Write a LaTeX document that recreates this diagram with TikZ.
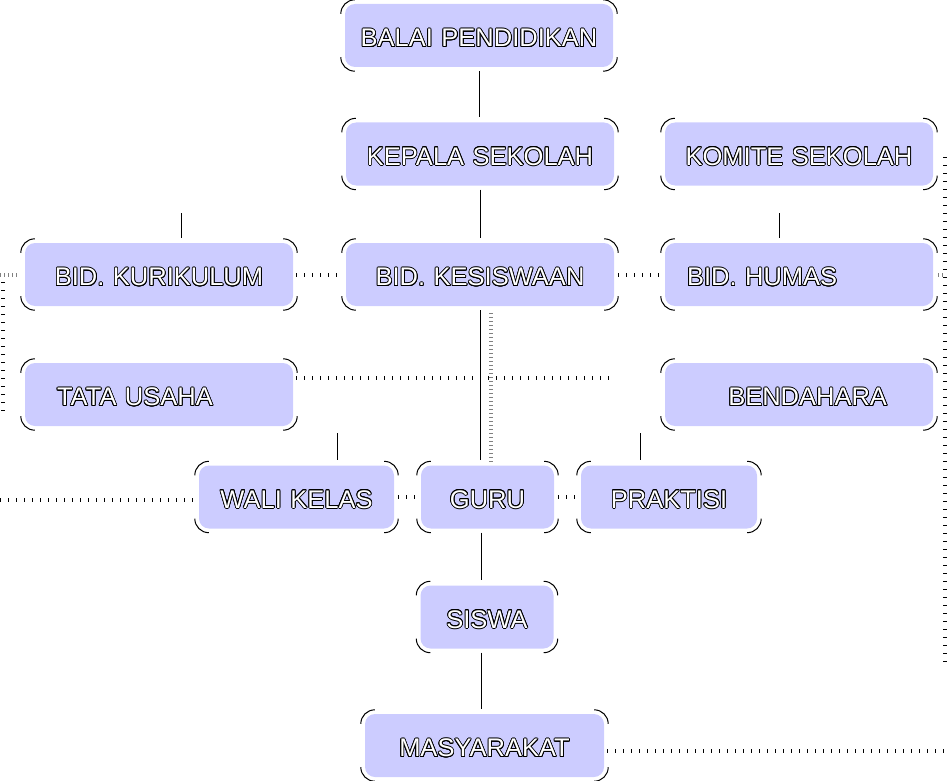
\documentclass[tikz,border=0pt]{standalone}
\usepackage{fontspec}
\setmainfont{Liberation Sans}
\usepackage{contour}
\contourlength{0.8pt}
\contournumber{16}
\usetikzlibrary{positioning}
\definecolor{boxfill}{RGB}{204,204,255}
\newcommand{\boxtext}[1]{\contour{black}{#1}}

\begin{document}
\begin{tikzpicture}[x=1pt,y=-1pt,
	orgbox/.style={fill=boxfill,rounded corners=10pt,minimum height=63pt,inner xsep=0pt,inner ysep=0pt,
		text=white,font=\fontsize{25.5}{30}\selectfont,align=center,text width=#1,text height=22.5pt,text depth=0pt},
	orgbox/.default=268pt,
	link/.style={line width=1pt,shorten <=4pt,shorten >=5pt},
	dots/.style={line width=4pt,dash pattern=on 1pt off 7pt},
	ticks/.style={gray,line width=4pt,dash pattern=on 1pt off 3pt},
	corner/.style={line width=1pt}]
	\useasboundingbox (0,0) rectangle (950,781);
	\node[orgbox] (BP) at (479,35.5) {\boxtext{BALAI PENDIDIKAN}};
	\node[orgbox] (KS) at (480,154) {\boxtext{KEPALA SEKOLAH}};
	\node[orgbox] (KM) at (799,154) {\boxtext{KOMITE SEKOLAH}};
	\node[orgbox] (KUR) at (159,274.5) {\boxtext{BID. KURIKULUM}};
	\node[orgbox] (KES) at (480,274.5) {\boxtext{BID. KESISWAAN}};
	\node[orgbox=224pt,inner xsep=22pt,align=left] (HUM) at (799,274.5) {\boxtext{BID. HUMAS}};
	\node[orgbox=204pt,inner xsep=32pt,align=left] (TU) at (159,394.5) {\boxtext{TATA USAHA}};
	\node[orgbox=176pt,inner xsep=46pt,align=right] (BEN) at (799,394.5) {\boxtext{BENDAHARA}};
	\node[orgbox=195pt] (WK) at (296.5,497) {\boxtext{WALI KELAS}};
	\node[orgbox=133pt] (GU) at (487.5,497) {\boxtext{GURU}};
	\node[orgbox=176pt] (PR) at (669,497) {\boxtext{PRAKTISI}};
	\node[orgbox=133pt] (SI) at (487,617) {\boxtext{SISWA}};
	\node[orgbox=239pt] (MA) at (484.5,745.5) {\boxtext{MASYARAKAT}};
	\foreach \n in {BP,KS,KM,KUR,KES,HUM,TU,BEN,WK,GU,PR,SI,MA}{
		\draw[corner] ([xshift=-4pt,yshift=-10pt]\n.north west) arc[start angle=180,delta angle=-90,radius=14pt];
		\draw[corner] ([xshift=-10pt,yshift=4pt]\n.north east) arc[start angle=90,delta angle=-90,radius=14pt];
		\draw[corner] ([xshift=4pt,yshift=10pt]\n.south east) arc[start angle=0,delta angle=-90,radius=14pt];
		\draw[corner] ([xshift=10pt,yshift=-4pt]\n.south west) arc[start angle=270,delta angle=-90,radius=14pt];
	}
	\coordinate (KURup) at (181,213);
	\coordinate (HUMup) at (779,213);
	\coordinate (WKup) at (337,433);
	\coordinate (PRup) at (640,433);
	\coordinate (TUend) at (610,378);
	\coordinate (WKend) at (0,500);
	\coordinate (MAend) at (945,751);
	\coordinate (Rtop) at (945,157);
	\coordinate (Rbot) at (945,666);
	\coordinate (Ltop) at (3,282);
	\coordinate (Lbot) at (3,412);
	\draw[link] (BP.south) -- (BP.south |- KS.north);
	\draw[link] (KS.south) -- (KS.south |- KES.north);
	\draw[link] (KES.south) -- (KES.south |- GU.north);
	\draw[ticks,shorten <=7pt,shorten >=4pt] ([xshift=11pt]KES.south) -- ([xshift=11pt]KES.south |- GU.north);
	\draw[link] ([xshift=-6pt]GU.south) -- ([xshift=-6pt]GU.south |- SI.north);
	\draw[link] ([xshift=-6pt]SI.south) -- ([xshift=-6pt]SI.south |- MA.north);
	\draw[link,shorten <=0pt] (KURup) -- (KURup |- KUR.north);
	\draw[link,shorten <=0pt] (HUMup) -- (HUMup |- HUM.north);
	\draw[link,shorten <=0pt] (WKup) -- (WKup |- WK.north);
	\draw[link,shorten <=0pt] (PRup) -- (PRup |- PR.north);
	\draw[dots,shorten <=3pt,shorten >=5pt] (KUR) -- (KES);
	\draw[dots,shorten <=4pt,shorten >=5pt] (KES) -- (HUM);
	\draw[dots,shorten <=3pt] (TUend -| TU.east) -- (TUend);
	\draw[dots,shorten >=3pt] (WKend) -- (WKend -| WK.west);
	\draw[dots,shorten <=4pt,shorten >=4pt] (WK) -- (GU);
	\draw[dots,shorten <=4pt,shorten >=4pt] (GU) -- (PR);
	\draw[dots,shorten <=3pt] (MAend -| MA.east) -- (MAend);
	\draw[dots] (Rtop) -- (Rbot);
	\draw[ticks,shorten <=5pt] (HUM.east) -- (HUM.east -| Rtop);
	\draw[dots] (Ltop) -- (Lbot);
	\draw[ticks] (Ltop |- KUR.west) ++(-3,0) -- ([xshift=-6pt]KUR.west);
\end{tikzpicture}
\end{document}
